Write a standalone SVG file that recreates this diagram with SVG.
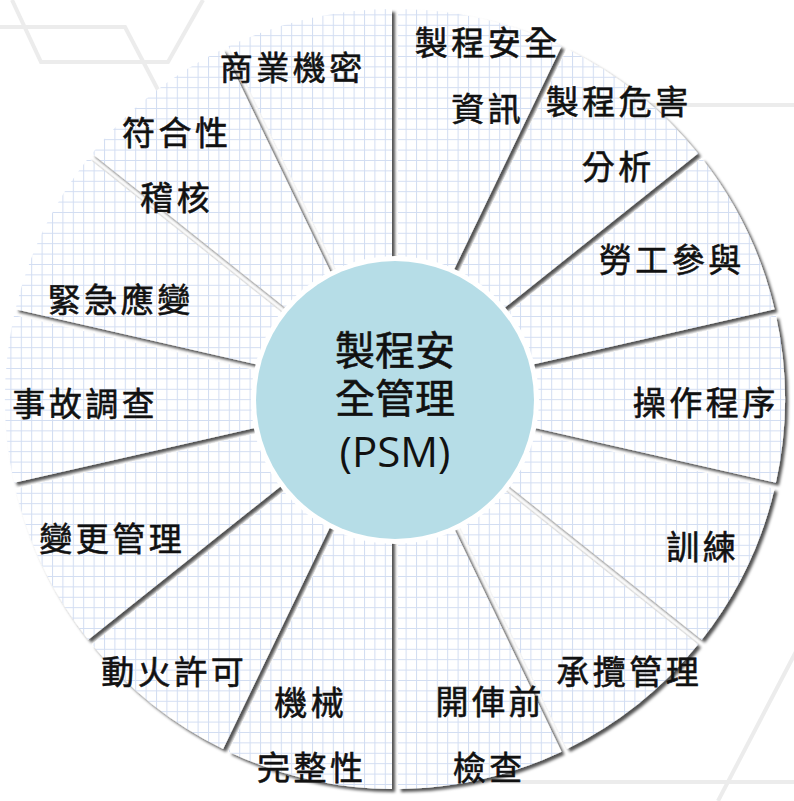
<svg xmlns="http://www.w3.org/2000/svg" width="794" height="801" viewBox="0 0 794 801">
<style>
.bgl{fill:none;stroke:#ececec;stroke-width:4}
.seg{fill:url(#grid)}
.lbl{font-family:"Noto Sans CJK TC","Noto Sans CJK SC",sans-serif;font-size:33px;letter-spacing:3.5px;fill:#111;stroke:#111;stroke-width:0.6;text-anchor:middle}
.ctr{font-family:"Noto Sans CJK TC","Noto Sans CJK SC",sans-serif;font-size:40px;fill:#111;stroke:#111;stroke-width:0.6;text-anchor:middle}
.psm{font-family:"Open Sans","Noto Sans",sans-serif;font-size:42px;stroke-width:0}
</style>
<defs>
<pattern id="grid" patternUnits="userSpaceOnUse" x="0" y="4" width="10.4" height="10.4">
<rect width="10.4" height="10.4" fill="#ffffff"/>
<path d="M0.5,0V10.4M0,0.5H10.4" stroke="#d2ddf2" stroke-width="1" fill="none"/>
</pattern>
<filter id="shadow" x="-5%" y="-5%" width="110%" height="110%">
<feGaussianBlur in="SourceAlpha" stdDeviation="1.6"/>
<feOffset dx="2.8" dy="2.8" result="b"/>
<feFlood flood-color="#000" flood-opacity="0.68"/>
<feComposite in2="b" operator="in" result="s"/>
<feMerge><feMergeNode in="s"/><feMergeNode in="SourceGraphic"/></feMerge>
</filter>
</defs>
<rect width="794" height="801" fill="#ffffff"/>
<g id="background">
<polyline class="bgl" points="12,0 41,62 168,62 203,0"/>
<polyline class="bgl" points="0,27 125,27 200,170"/>
<line class="bgl" x1="600" y1="105" x2="794" y2="105" stroke-width="5"/>
<line class="bgl" x1="500" y1="782" x2="794" y2="782" stroke-width="5"/>
<line class="bgl" x1="802" y1="640" x2="718" y2="801" stroke-width="5"/>
</g>
<g id="segments" filter="url(#shadow)">
<path class="seg" d="M398,385.86 L398,9 A390,390 0 0 1 561.51,46.32 Z"/>
<path class="seg" d="M403.4,388.46 L566.91,48.92 A390,390 0 0 1 698.04,153.49 Z"/>
<path class="seg" d="M407.15,393.15 L701.78,158.19 A390,390 0 0 1 774.55,309.3 Z"/>
<path class="seg" d="M408.48,399 L775.89,315.15 A390,390 0 0 1 775.89,482.86 Z"/>
<path class="seg" d="M407.15,404.85 L774.55,488.71 A390,390 0 0 1 701.78,639.82 Z"/>
<path class="seg" d="M403.4,409.54 L698.04,644.51 A390,390 0 0 1 566.91,749.08 Z"/>
<path class="seg" d="M398,412.14 L561.51,751.68 A390,390 0 0 1 398,789 Z"/>
<path class="seg" d="M392,412.14 L392,789 A390,390 0 0 1 228.49,751.68 Z"/>
<path class="seg" d="M386.6,409.54 L223.09,749.08 A390,390 0 0 1 91.96,644.51 Z"/>
<path class="seg" d="M382.85,404.85 L88.22,639.82 A390,390 0 0 1 15.45,488.71 Z"/>
<path class="seg" d="M381.52,399 L14.11,482.86 A390,390 0 0 1 14.11,315.15 Z"/>
<path class="seg" d="M382.85,393.15 L15.45,309.3 A390,390 0 0 1 88.22,158.19 Z"/>
<path class="seg" d="M386.6,388.46 L91.96,153.49 A390,390 0 0 1 223.09,48.92 Z"/>
<path class="seg" d="M392,385.86 L228.49,46.32 A390,390 0 0 1 392,9 Z"/>
</g>
<g id="center">
<circle cx="395" cy="400" r="144" fill="#ffffff"/>
<circle cx="395" cy="400" r="139" fill="#b6dde7"/>
<text class="ctr" x="395" y="365">製程安<tspan x="395" y="413">全管理</tspan><tspan class="psm" x="395" y="467">(PSM)</tspan></text>
</g>
<g id="n-psi"><text class="lbl" x="487.75" y="54.5">製程安全</text><text class="lbl" x="487.75" y="120.5">資訊</text></g>
<g id="n-pha"><text class="lbl" x="618.75" y="113.5">製程危害</text><text class="lbl" x="618.25" y="178.5">分析</text></g>
<g id="n-emp"><text class="lbl" x="671.75" y="271.5">勞工參與</text></g>
<g id="n-sop"><text class="lbl" x="705.75" y="414.5">操作程序</text></g>
<g id="n-train"><text class="lbl" x="702.75" y="558.5">訓練</text></g>
<g id="n-contr"><text class="lbl" x="629.25" y="683.5">承攬管理</text></g>
<g id="n-pssr"><text class="lbl" x="490.25" y="713.5">開俥前</text><text class="lbl" x="489.25" y="779.5">檢查</text></g>
<g id="n-mi"><text class="lbl" x="310.75" y="714.5">機械</text><text class="lbl" x="311.75" y="779.5">完整性</text></g>
<g id="n-hot"><text class="lbl" x="174.25" y="683.5">動火許可</text></g>
<g id="n-moc"><text class="lbl" x="112.25" y="550.5">變更管理</text></g>
<g id="n-inc"><text class="lbl" x="85.25" y="415.5">事故調查</text></g>
<g id="n-erp"><text class="lbl" x="120.75" y="311.5">緊急應變</text></g>
<g id="n-audit"><text class="lbl" x="176.75" y="144.5">符合性</text><text class="lbl" x="176.75" y="209.5">稽核</text></g>
<g id="n-trade"><text class="lbl" x="292.75" y="79.5">商業機密</text></g>
</svg>
